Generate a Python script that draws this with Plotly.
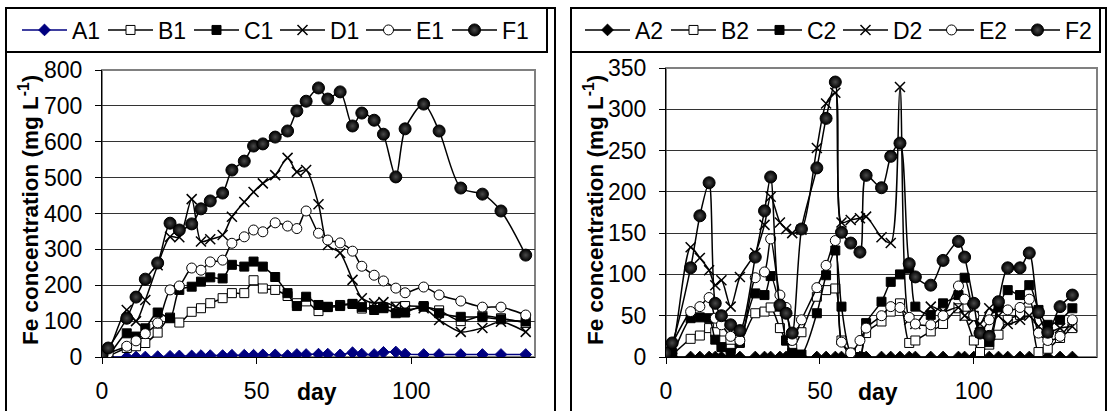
import plotly.graph_objects as go

W, H = 1107, 411

# ---------------- data: left panel ----------------
days1 = [0, 2, 8, 11, 14, 18, 22, 25, 29, 32, 35, 39, 42, 46, 49, 52, 56, 60, 63, 66,
         70, 73, 77, 81, 84, 88, 91, 95, 98, 104, 109, 116, 123, 129, 137]
A1 = [0, 0, 0, 0, 0, 1, 2, 3, 3, 4, 4, 4, 5, 5, 5, 6, 6, 4, 7, 7,
      8, 8, 6, 12, 8, 7, 13, 14, 8, 7, 7, 7, 7, 7, 7]
B1 = [0, 3, 25, 30, 39, 68, 110, 96, 126, 136, 150, 164, 178, 178, 214, 191, 187, 170, 150, 155,
      128, 140, 145, 148, 135, 140, 138, 140, 142, 140, 130, 100, 115, 108, 95]
C1 = [0, 5, 66, 57, 80, 124, 108, 187, 196, 210, 222, 219, 257, 252, 266, 252, 223, 178, 142, 168,
      145, 139, 142, 148, 139, 131, 136, 122, 124, 142, 122, 112, 111, 105, 99]
D1 = [0, 15, 131, 100, 159, 256, 335, 334, 440, 322, 328, 340, 391, 432, 460, 484, 507, 555, 516, 521,
      426, 312, 290, 215, 164, 150, 153, 140, 131, 136, 103, 70, 81, 98, 70]
E1 = [0, 10, 30, 45, 65, 95, 187, 198, 248, 242, 265, 270, 317, 335, 354, 349, 374, 365, 358, 407,
      345, 326, 318, 295, 253, 228, 212, 192, 179, 195, 173, 156, 139, 139, 117]
F1 = [5, 25, 108, 167, 217, 262, 373, 354, 371, 413, 435, 457, 521, 546, 588, 594, 613, 630, 686, 713,
      750, 719, 739, 644, 680, 660, 621, 502, 636, 705, 630, 471, 454, 407, 284]

# ---------------- data: right panel ----------------
days2 = [0, 2, 8, 11, 14, 16, 18, 21, 24, 29, 32, 34, 37, 39, 41, 44, 49, 52, 55, 57,
         60, 63, 65, 70, 73, 76, 79, 81, 86, 90, 95, 97, 100, 102, 105, 108, 111, 115, 118, 121,
         124, 128, 132]
A2 = [0, 0, 0, 0, 0, 0, 0, 0, 0, 0, 0, 0, 0, 0, 0, 0, 0, 0, 0, 0,
      0, 0, 0, 0, 0, 0, 0, 0, 0, 0, 0, 0, 0, 0, 0, 0, 0, 0, 0, 0,
      0, 0, 0]
B2 = [0, 3, 22, 26, 35, 30, 20, 10, 17, 53, 55, 60, 35, 20, 10, 30, 73, 81, 83, 20,
      5, 0, 29, 43, 55, 65, 17, 20, 31, 40, 59, 50, 20, 6, 15, 27, 45, 51, 55, 6,
      10, 23, 35]
C2 = [0, 5, 47, 48, 47, 21, 12, 5, 18, 77, 75, 98, 61, 20, 5, 3, 53, 99, 129, 61,
      5, 0, 41, 67, 91, 100, 107, 61, 51, 65, 75, 96, 50, 29, 18, 60, 81, 75, 87, 57,
      39, 45, 59]
D2 = [0, 10, 133, 120, 105, 87, 93, 61, 97, 126, 160, 194, 163, 155, 150, 154, 253, 307, 320, 163,
      166, 168, 170, 145, 138, 327, 45, 40, 61, 55, 60, 50, 45, 40, 59, 50, 40, 45, 50, 37,
      30, 35, 37]
E2 = [0, 16, 55, 61, 72, 47, 39, 25, 20, 96, 103, 143, 75, 60, 20, 45, 84, 111, 141, 18,
      5, 20, 35, 50, 61, 60, 48, 40, 39, 50, 86, 70, 50, 30, 45, 67, 57, 60, 70, 29,
      20, 25, 45]
F2 = [5, 17, 108, 171, 211, 65, 50, 39, 32, 121, 177, 218, 63, 53, 29, 155, 229, 289, 333, 151,
      138, 127, 220, 205, 243, 259, 113, 97, 87, 117, 140, 121, 65, 29, 25, 67, 108, 108, 126, 54,
      30, 61, 75]

xticks = [0, 50, 100]
FONT = "Liberation Sans, Arial, sans-serif"

styles = {
    "A": dict(symbol="diamond", size=9, line=dict(width=1)),
    "B": dict(symbol="square", size=9, color="white", line=dict(color="black", width=1)),
    "C": dict(symbol="square", size=9, color="black", line=dict(color="black", width=1)),
    "D": dict(symbol="x-thin", size=10, color="black", line=dict(color="black", width=1.5)),
    "E": dict(symbol="circle", size=10, color="white", line=dict(color="black", width=1)),
    "F": dict(symbol="circle", size=12, color="black", line=dict(color="black", width=1),
              gradient=dict(type="radial", color="#4a4a4a")),
}

fig = go.Figure()

def add_series(days, vals, name, key, xa, ya, legend, acolor):
    m = dict(styles[key])
    lc = "black"
    if key == "A":
        m["color"] = acolor
        m["line"] = dict(color=acolor, width=1)
        lc = acolor
    fig.add_trace(go.Scatter(
        x=days, y=vals, name=name, mode="lines+markers",
        line=dict(color=lc, width=1.5, shape="spline", smoothing=0.8),
        marker=m, xaxis=xa, yaxis=ya, legend=legend))

left = [("A1", A1, "A"), ("B1", B1, "B"), ("C1", C1, "C"), ("D1", D1, "D"), ("E1", E1, "E"), ("F1", F1, "F")]
right = [("A2", A2, "A"), ("B2", B2, "B"), ("C2", C2, "C"), ("D2", D2, "D"), ("E2", E2, "E"), ("F2", F2, "F")]
for n, v, k in left:
    add_series(days1, v, n, k, "x", "y", "legend", "#000080")
for n, v, k in right:
    add_series(days2, v, n, k, "x2", "y2", "legend2", "black")

def px(p):
    return p / W

def py(p):
    return 1 - p / H

axis_font = dict(family=FONT, size=23, color="black")
legend_font = dict(family=FONT, size=23, color="black")
xcommon = dict(range=[0, 140], tickvals=xticks, ticks="outside", ticklen=6, tickcolor="black",
               showline=True, linecolor="black", linewidth=1, showgrid=False, zeroline=False,
               tickfont=axis_font, ticklabelstandoff=7, fixedrange=True, automargin=False)
ycommon = dict(ticks="outside", ticklen=6, tickcolor="black", showline=True, linecolor="black",
               linewidth=1, showgrid=True, gridcolor="#333333", gridwidth=1, zeroline=False,
               tickfont=axis_font, ticklabelstandoff=8, fixedrange=True, automargin=False)

fig.update_layout(
    width=W, height=H, margin=dict(l=0, r=0, t=0, b=0, pad=0, autoexpand=False),
    paper_bgcolor="white", plot_bgcolor="white",
    font=dict(family=FONT, color="black"),
    xaxis=dict(domain=[px(102), px(535)], anchor="y", **xcommon),
    yaxis=dict(domain=[py(357), py(70)], anchor="x", range=[0, 800], dtick=100, **ycommon),
    xaxis2=dict(domain=[px(666), px(1097)], anchor="y2", **xcommon),
    yaxis2=dict(domain=[py(357), py(68)], anchor="x2", range=[0, 350], dtick=50, **ycommon),
    legend=dict(orientation="h", x=px(17), y=py(30), xanchor="left", yanchor="middle",
                bgcolor="rgba(0,0,0,0)", font=legend_font,
                itemwidth=45, entrywidth=26, tracegroupgap=0),
    legend2=dict(orientation="h", x=px(580), y=py(30), xanchor="left", yanchor="middle",
                 bgcolor="rgba(0,0,0,0)", font=legend_font,
                 itemwidth=45, entrywidth=26, tracegroupgap=0),
    showlegend=True,
)

shapes = []
# outer frames and legend boxes
for (x0, x1, lx1) in [(6, 555, 547), (571, 1106, 1100)]:
    shapes.append(dict(type="rect", xref="paper", yref="paper", x0=px(x0), x1=px(x1), y0=py(412), y1=py(8),
                       line=dict(color="black", width=2), layer="below"))
    shapes.append(dict(type="rect", xref="paper", yref="paper", x0=px(x0), x1=px(lx1), y0=py(52), y1=py(8),
                       line=dict(color="black", width=2), layer="below"))
# plot-area borders
for xr, yr in [("x", "y"), ("x2", "y2")]:
    shapes.append(dict(type="rect", xref=xr + " domain", yref=yr + " domain", x0=0, x1=1, y0=0, y1=1,
                       line=dict(color="#808080", width=2), layer="below"))
fig.update_layout(shapes=shapes)

title = "Fe concentration (mg L<sup>-1</sup>)"
ann = []
for cx in [29, 594]:
    ann.append(dict(text="<b>" + title + "</b>", x=px(cx), y=py(210), xref="paper", yref="paper",
                    textangle=-90, showarrow=False, xanchor="center", yanchor="middle",
                    font=dict(family=FONT, size=22.5, color="black")))
for cx in [317, 878]:
    ann.append(dict(text="<b>day</b>", x=px(cx), y=py(392), xref="paper", yref="paper",
                    showarrow=False, xanchor="center", yanchor="middle",
                    font=dict(family=FONT, size=23, color="black")))
fig.update_layout(annotations=ann)

fig.write_html("out.html", config={"displayModeBar": False},
               post_script="document.body.style.margin='0px';document.body.style.overflow='hidden';")
